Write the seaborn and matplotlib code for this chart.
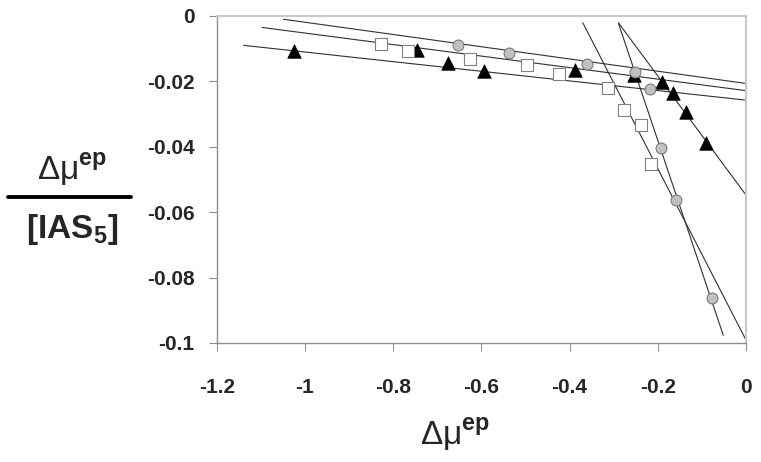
import numpy as np
import pandas as pd
import matplotlib.pyplot as plt
import seaborn as sns
from matplotlib.lines import Line2D

sns.set_style("white")
plt.rcParams["font.family"] = ["Liberation Sans", "DejaVu Sans"]
plt.rcParams["mathtext.fontset"] = "custom"
plt.rcParams["mathtext.rm"] = "Liberation Sans"
plt.rcParams["mathtext.bf"] = "Liberation Sans:bold"

# data
tri_x = [-1.025, -0.746, -0.676, -0.595, -0.387, -0.255, -0.191, -0.166, -0.136, -0.091]
tri_y = [-0.0108, -0.0106, -0.0145, -0.0170, -0.0165, -0.0182, -0.0203, -0.0236, -0.0295, -0.0389]

sq_x = [-0.827, -0.766, -0.625, -0.497, -0.423, -0.313, -0.276, -0.239, -0.215]
sq_y = [-0.0085, -0.0108, -0.0133, -0.0152, -0.0179, -0.0220, -0.0287, -0.0335, -0.0453]

circ_x = [-0.654, -0.537, -0.361, -0.251, -0.217, -0.192, -0.159, -0.078]
circ_y = [-0.0091, -0.0113, -0.0149, -0.0172, -0.0225, -0.0405, -0.0562, -0.0863]

# fitted lines: slope, intercept, x start, x end
fit_slope = [-0.0187, -0.0176, -0.0147, -0.262, -0.401, -0.182]
fit_icpt = [-0.0207, -0.0229, -0.0258, -0.0991, -0.1183, -0.0548]
fit_x0 = [-1.049, -1.097, -1.139, -0.370, -0.289, -0.289]
fit_x1 = [0.0, 0.0, 0.0, 0.0, -0.0515, 0.0]

x_ticks = [-1.2, -1.0, -0.8, -0.6, -0.4, -0.2, 0.0]
x_labels = ["-1.2", "-1", "-0.8", "-0.6", "-0.4", "-0.2", "0"]
y_ticks = [0.0, -0.02, -0.04, -0.06, -0.08, -0.1]
y_labels = ["0", "-0.02", "-0.04", "-0.06", "-0.08", "-0.1"]

fig = plt.figure(figsize=(7.61, 4.62), dpi=100)
ax = fig.add_axes([216.7 / 761, 1 - 343 / 462, (746 - 216.7) / 761, (343 - 15.7) / 462])

for m, b, x0, x1 in zip(fit_slope, fit_icpt, fit_x0, fit_x1):
    xs = np.array([x0, x1])
    sns.lineplot(x=xs, y=m * xs + b, ax=ax, color="#303030", lw=0.8, zorder=1)

sns.scatterplot(x=tri_x, y=tri_y, ax=ax, marker="^", s=95, color="black",
                edgecolor="black", linewidth=0.5, zorder=3)
sns.scatterplot(x=sq_x, y=sq_y, ax=ax, marker="s", s=70, color="white",
                edgecolor="#808080", linewidth=0.8, zorder=3)
sns.scatterplot(x=circ_x, y=circ_y, ax=ax, marker="o", s=62, color="#c0c0c0",
                edgecolor="#707070", linewidth=0.7, zorder=3)

ax.set_xlim(-1.2, 0)
ax.set_ylim(-0.1, 0)
ax.set_xticks(x_ticks)
ax.set_xticklabels(x_labels, fontsize=15, fontweight="bold")
ax.set_yticks(y_ticks)
ax.set_yticklabels(y_labels, fontsize=15, fontweight="bold")
ax.tick_params(axis="x", direction="out", length=6, width=0.8, color="#909090", pad=19, bottom=True)
ax.tick_params(axis="y", direction="out", length=6, width=0.8, color="#909090", pad=10, left=True)
ax.set_xlabel("")
ax.set_ylabel("")

for side in ["left", "bottom"]:
    ax.spines[side].set_color("#909090")
    ax.spines[side].set_linewidth(1.0)
for side in ["top", "right"]:
    ax.spines[side].set_color("#c8c8c8")
    ax.spines[side].set_linewidth(1.5)

# axis titles
fig.text(420 / 761, 1 - 445 / 462, r"$\mathrm{Δμ}^{\mathbf{ep}}$", fontsize=24,
         ha="left", va="baseline")
fig.text(72 / 761, 1 - 180 / 462, r"$\mathrm{Δμ}^{\mathbf{ep}}$", fontsize=24,
         ha="center", va="baseline")
fig.text(72 / 761, 1 - 238 / 462, r"$\mathbf{[IAS}_{\mathbf{5}}\mathbf{]}$", fontsize=24,
         ha="center", va="baseline")
fig.add_artist(Line2D([8 / 761, 131 / 761], [1 - 197 / 462, 1 - 197 / 462],
                      color="black", lw=2.8, transform=fig.transFigure))

fig.savefig("out.png", dpi=100)
